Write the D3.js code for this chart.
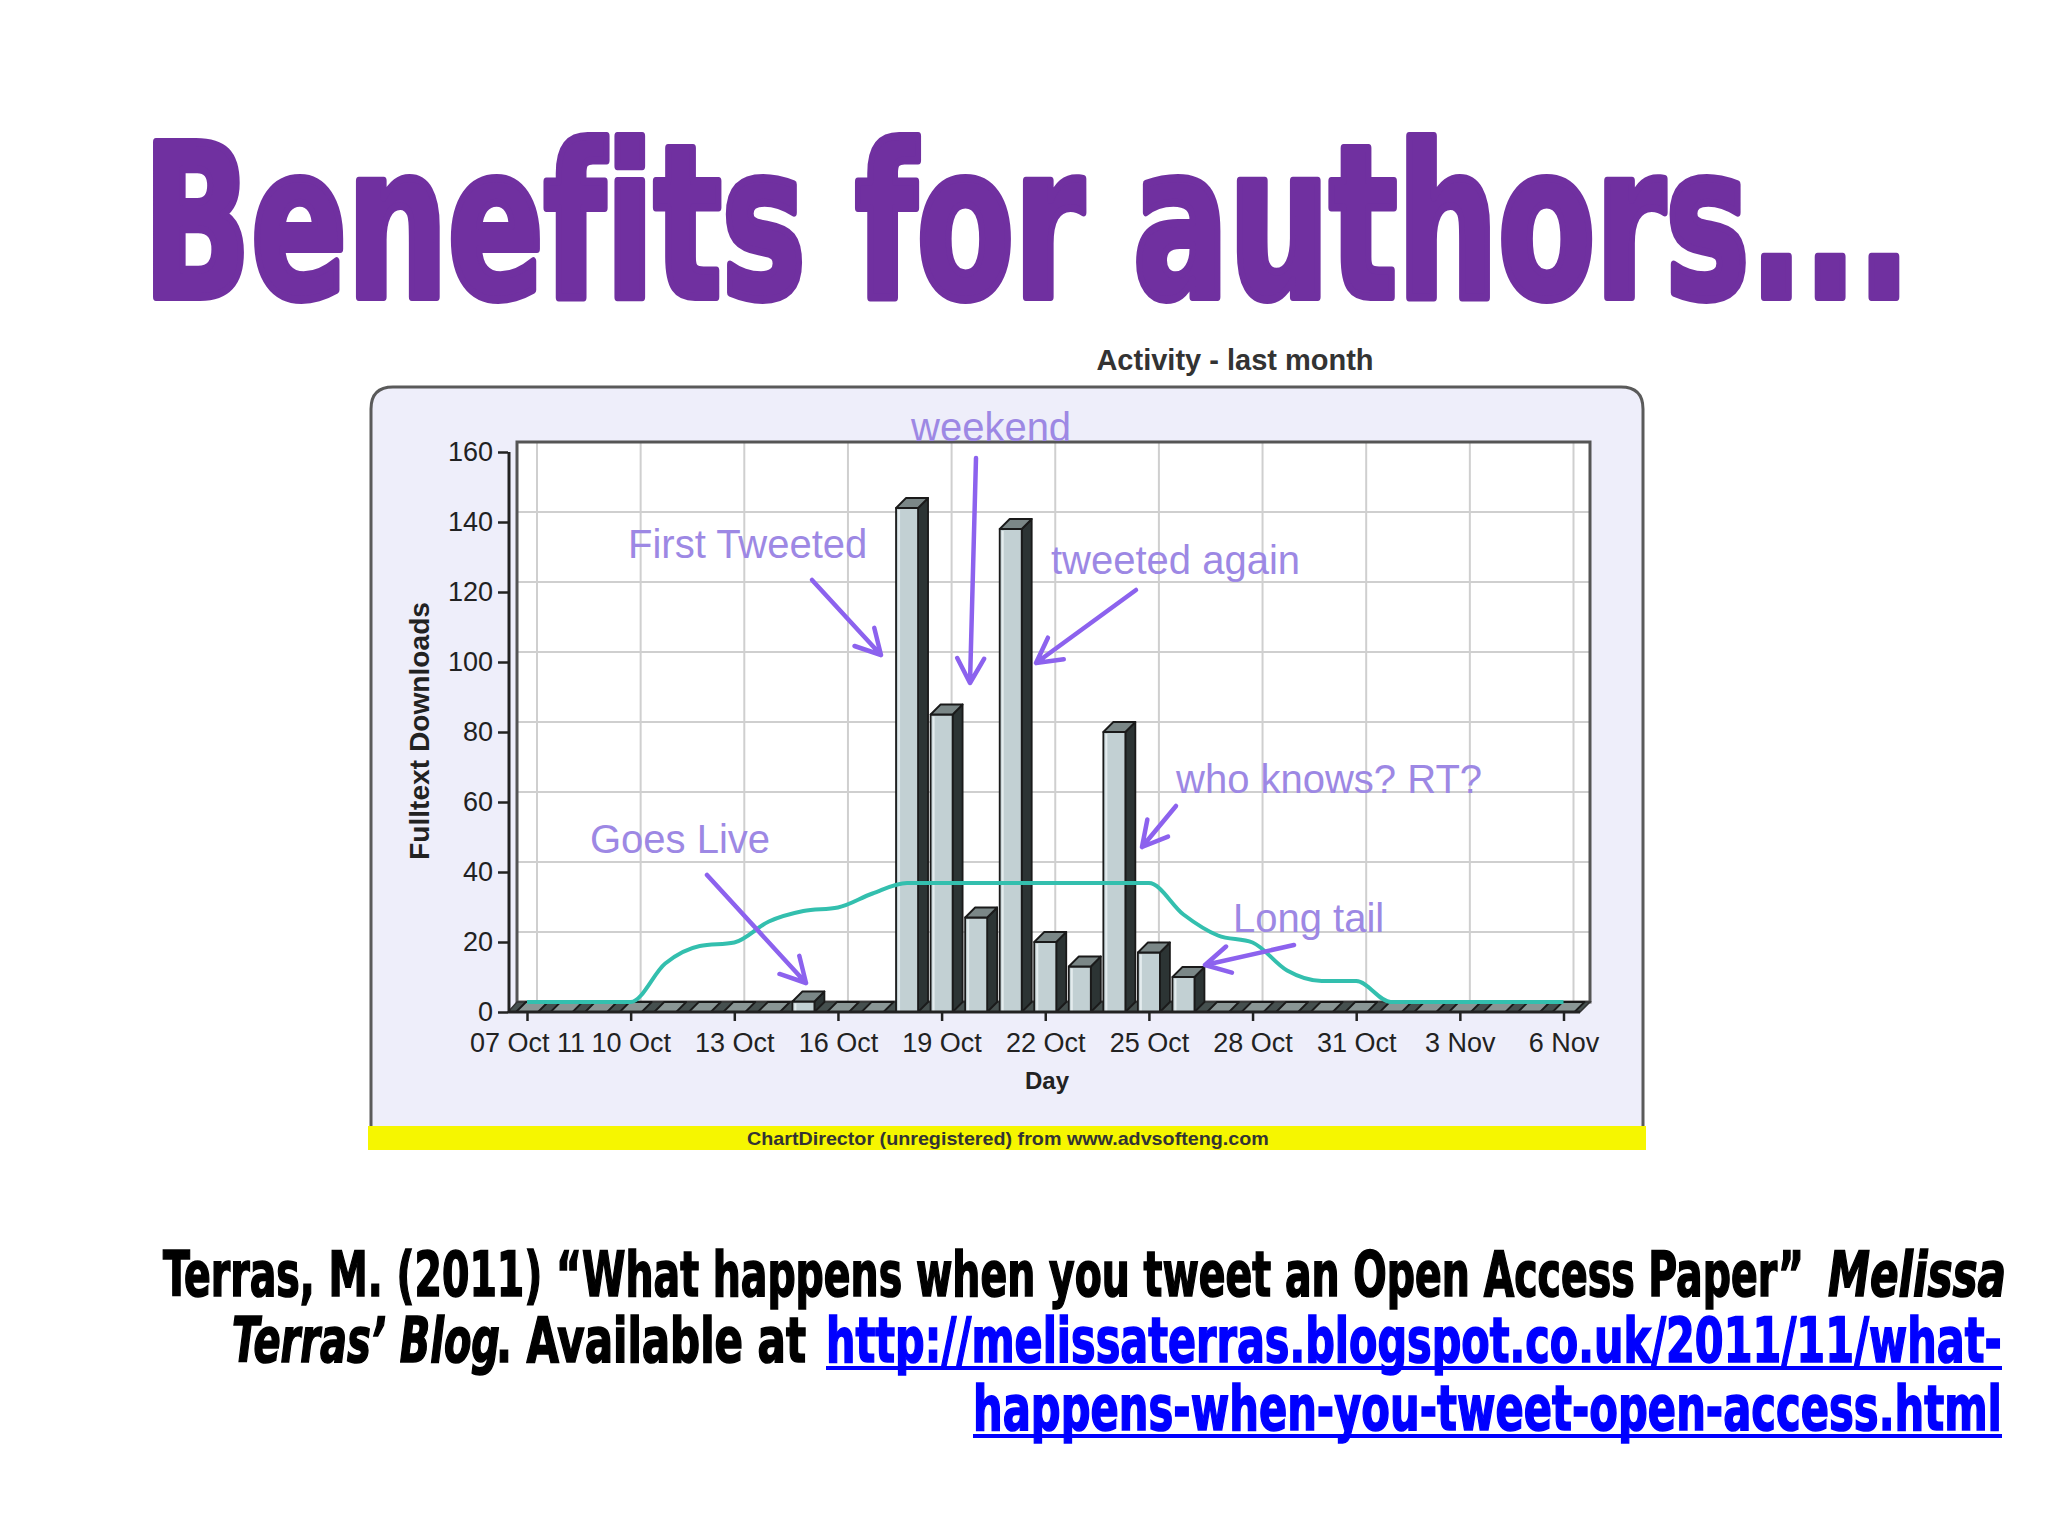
<!DOCTYPE html>
<html><head><meta charset="utf-8">
<script src="https://cdn.jsdelivr.net/npm/d3@7"></script>
<style>
html,body{margin:0;padding:0;background:#fff;}
svg{display:block;}
text{font-variant-ligatures:none;}
</style></head>
<body>
<svg id="c" width="2048" height="1536"></svg>
<script>
// ---------- data ----------
const days = ["2011-10-07","2011-10-08","2011-10-09","2011-10-10","2011-10-11","2011-10-12","2011-10-13",
  "2011-10-14","2011-10-15","2011-10-16","2011-10-17","2011-10-18","2011-10-19","2011-10-20","2011-10-21",
  "2011-10-22","2011-10-23","2011-10-24","2011-10-25","2011-10-26","2011-10-27","2011-10-28","2011-10-29",
  "2011-10-30","2011-10-31","2011-11-01","2011-11-02","2011-11-03","2011-11-04","2011-11-05","2011-11-06"];
const downloads = [0,0,0,0,0,0,0,0,3,0,0,144,85,27,138,20,13,80,17,10,0,0,0,0,0,0,0,0,0,0,0];
const trend = [0,0,0,0,11,16,17,23,26,27,31,34,34,34,34,34,34,34,34,25,19,17,9,6,6,0,0,0,0,0,0];
const tickDates = ["2011-10-07","2011-10-10","2011-10-13","2011-10-16","2011-10-19","2011-10-22",
  "2011-10-25","2011-10-28","2011-10-31","2011-11-03","2011-11-06"];
const tickLabels = ["07 Oct 11","10 Oct","13 Oct","16 Oct","19 Oct","22 Oct","25 Oct","28 Oct","31 Oct","3 Nov","6 Nov"];
const yTicks = [0,20,40,60,80,100,120,140,160];
const noteTexts = ["weekend","First Tweeted","tweeted again","who knows? RT?","Goes Live","Long tail"];

// ---------- setup ----------
const parse = d3.utcParse("%Y-%m-%d");
const svg = d3.select("#c");
const F = "'Liberation Sans', Arial, sans-serif";
const NARROW = "'Liberation Sans Narrow','DejaVu Sans Condensed','Roboto Condensed',sans-serif";

// fit a text horizontally between x0 and x1 by scaling it
function fit(sel, x0, x1, y){
  sel.attr("x",0).attr("y",0);
  const w = sel.node().getComputedTextLength();
  sel.attr("transform",`translate(${x0},${y}) scale(${(x1-x0)/w},1)`);
  return sel;
}

const D = 10; // 3D depth
const x = d3.scaleUtc().domain([parse(days[0]), parse(days[days.length-1])]).range([527, 1563.5]);
const yF = d3.scaleLinear().domain([0,160]).range([1012, 452]); // front plane
const yB = d3.scaleLinear().domain([0,160]).range([1002, 442]); // back wall

// ---------- slide title ----------
fit(svg.append("text")
  .style("font-family",NARROW).style("font-weight",700).style("font-size","212px")
  .attr("fill","#7030a0").attr("stroke","#7030a0").attr("stroke-width",8).attr("stroke-linejoin","round")
  .text("Benefits for authors..."), 143, 1911, 297);

// ---------- chart frame ----------
svg.append("text").attr("x",1235).attr("y",370).attr("text-anchor","middle")
  .style("font-family",F).style("font-weight",700).style("font-size","29px").attr("fill","#333")
  .text("Activity - last month");

svg.append("path")
  .attr("d","M371,1140 L371,409 Q371,387 393,387 L1621,387 Q1643,387 1643,409 L1643,1140")
  .attr("fill","#eeeefa").attr("stroke","#5a5a5a").attr("stroke-width",3);

// back wall
const left = 517, right = 1590;
svg.append("rect").attr("x",left).attr("y",yB(160)).attr("width",right-left).attr("height",yB(0)-yB(160))
  .attr("fill","#ffffff");
const grid = svg.append("g").attr("stroke","#cfcfcf").attr("stroke-width",2);
grid.selectAll("line.h").data(yTicks.slice(1,-1)).join("line")
  .attr("x1",left).attr("x2",right).attr("y1",d=>yB(d)).attr("y2",d=>yB(d));
grid.selectAll("line.v").data(tickDates).join("line")
  .attr("x1",d=>x(parse(d))+D).attr("x2",d=>x(parse(d))+D).attr("y1",yB(160)).attr("y2",yB(0));
svg.append("rect").attr("x",left).attr("y",yB(160)).attr("width",right-left).attr("height",yB(0)-yB(160))
  .attr("fill","none").attr("stroke","#555").attr("stroke-width",3);

// floor band
svg.append("path")
  .attr("d",`M508,${yF(0)} L${right-10},${yF(0)} L${right},${yB(0)} L${left},${yB(0)} Z`)
  .attr("fill","#46504f").attr("stroke","#333").attr("stroke-width",1.5);

// ---------- bars (3D) ----------
const hw = 11;
const bars = svg.append("g");
days.forEach((d,i)=>{
  const cx = x(parse(d)), v = downloads[i], top = yF(v);
  const g = bars.append("g").attr("stroke","#1a1a1a").attr("stroke-width",1.8).attr("stroke-linejoin","round");
  if (v > 0) {
    g.append("path").attr("d",`M${cx+hw},${top} L${cx+hw+D},${top-D} L${cx+hw+D},${yF(0)-D} L${cx+hw},${yF(0)} Z`)
      .attr("fill","#2c3434");
    g.append("rect").attr("x",cx-hw).attr("y",top).attr("width",2*hw).attr("height",yF(0)-top)
      .attr("fill","#c2d0d3");
    g.append("line").attr("x1",cx-hw+3).attr("x2",cx-hw+3).attr("y1",top+2).attr("y2",yF(0)-1)
      .attr("stroke","#e4ecee").attr("stroke-width",2);
  }
  g.append("path").attr("d",`M${cx-hw},${top} L${cx+hw},${top} L${cx+hw+D},${top-D} L${cx-hw+D},${top-D} Z`)
    .attr("fill", v>0 ? "#7b8787" : "#8a9695");
});

// ---------- trend line ----------
const line = d3.line().x((d,i)=>x(parse(days[i]))).y(d=>yB(d)).curve(d3.curveMonotoneX);
svg.append("path").datum(trend).attr("d",line)
  .attr("fill","none").attr("stroke","#33bfae").attr("stroke-width",4).attr("stroke-linejoin","round");

// ---------- axes ----------
const yAxis = d3.axisLeft(yF).tickValues(yTicks).tickSize(10).tickPadding(5);
const ya = svg.append("g").attr("transform","translate(508,0)").call(yAxis);
ya.select(".domain").remove();
ya.selectAll(".tick line").attr("stroke","#222").attr("stroke-width",2.5);
ya.selectAll(".tick text").style("font-family",F).style("font-size","27px").attr("fill","#222");
svg.append("line").attr("x1",509).attr("x2",509).attr("y1",yF(160)).attr("y2",yF(0))
  .attr("stroke","#222").attr("stroke-width",3);

const xAxis = d3.axisBottom(x).tickValues(tickDates.map(parse))
  .tickFormat((d,i)=>tickLabels[i]).tickSize(9).tickPadding(12);
const xa = svg.append("g").attr("transform",`translate(0,${yF(0)})`).call(xAxis);
xa.select(".domain").remove();
xa.selectAll(".tick line").attr("stroke","#222").attr("stroke-width",2.5);
xa.selectAll(".tick text").style("font-family",F).style("font-size","27px").attr("fill","#222");
svg.append("line").attr("x1",508).attr("x2",right-10).attr("y1",yF(0)).attr("y2",yF(0))
  .attr("stroke","#222").attr("stroke-width",3);

svg.append("text").attr("x",1047).attr("y",1089).attr("text-anchor","middle")
  .style("font-family",F).style("font-weight",700).style("font-size","24px").attr("fill","#222").text("Day");
svg.append("text").attr("transform","translate(429,731) rotate(-90)").attr("text-anchor","middle")
  .attr("textLength",258).attr("lengthAdjust","spacingAndGlyphs")
  .style("font-family",F).style("font-weight",700).style("font-size","27px").attr("fill","#222")
  .text("Fulltext Downloads");

// yellow band
svg.append("rect").attr("x",368).attr("y",1126).attr("width",1278).attr("height",24).attr("fill","#f6f600");
fit(svg.append("text")
  .style("font-family",F).style("font-weight",700).style("font-size","18px").attr("fill","#333")
  .text("ChartDirector (unregistered) from www.advsofteng.com"), 747, 1269, 1145);

// ---------- annotations ----------
const notePos = [[911,441],[628,558],[1051,574],[1176,793],[590,853],[1233,932]];
const arrows = [[976,458,970,683],[812,580,881,655],[1136,590,1036,663],[1176,806,1142,847],[707,875,806,983],[1294,945,1205,965]];
const ann = svg.append("g");
noteTexts.forEach((t,i)=>{
  ann.append("text").attr("x",notePos[i][0]).attr("y",notePos[i][1])
    .style("font-family",F).style("font-size","40px").attr("fill","#9d88e4").text(t);
});
arrows.forEach(([x1,y1,x2,y2])=>{
  const a = Math.atan2(y2-y1,x2-x1), L=28, s=0.5;
  const p1=[x2-L*Math.cos(a-s), y2-L*Math.sin(a-s)], p2=[x2-L*Math.cos(a+s), y2-L*Math.sin(a+s)];
  ann.append("path").attr("d",`M${x1},${y1} L${x2},${y2} M${p1[0]},${p1[1]} L${x2},${y2} L${p2[0]},${p2[1]}`)
    .attr("fill","none").attr("stroke","#8c62ee").attr("stroke-width",4.5)
    .attr("stroke-linecap","round").attr("stroke-linejoin","round");
});

// ---------- citation ----------
function seg(txt,x0,x1,y,opts={}){
  const t = svg.append("text")
    .style("font-family",NARROW).style("font-weight",700).style("font-size","62px")
    .style("font-style",opts.italic?"italic":"normal")
    .attr("fill",opts.color||"#000").attr("stroke",opts.color||"#000").attr("stroke-width",1.6)
    .text(txt);
  fit(t, x0, x1, y);
  if (opts.underline) svg.append("rect").attr("x",x0).attr("y",y+4).attr("width",x1-x0).attr("height",4).attr("fill",opts.color);
}
seg("Terras, M. (2011) \u201CWhat happens when you tweet an Open Access Paper\u201D",163,1804,1296);
seg("Melissa",1828,2006,1296,{italic:true});
seg("Terras\u2019 Blog",232,500,1362,{italic:true});
seg(". Available at",496,806,1362);
seg("http://melissaterras.blogspot.co.uk/2011/11/what-",826,2002,1362,{color:"#0000ff",underline:true});
seg("happens-when-you-tweet-open-access.html",973,2002,1430,{color:"#0000ff",underline:true});
</script>
</body></html>
